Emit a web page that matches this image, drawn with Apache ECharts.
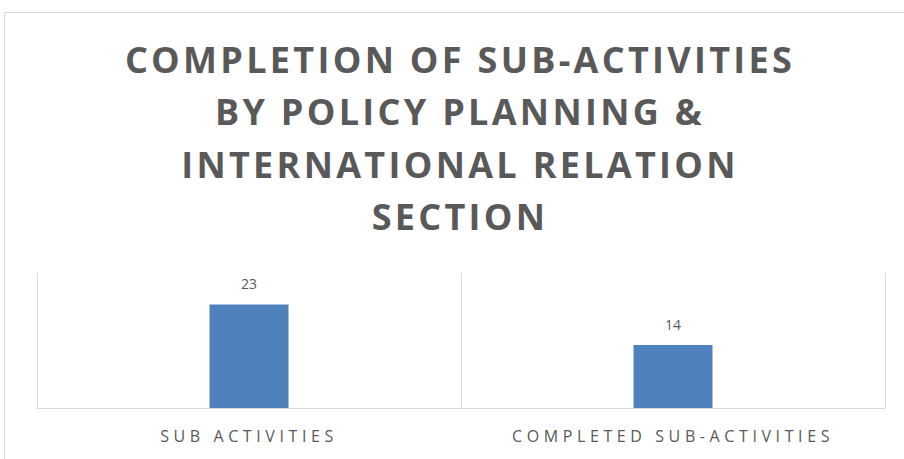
<!DOCTYPE html>
<html><head><meta charset="utf-8">
<script src="https://cdn.jsdelivr.net/npm/echarts@6/dist/echarts.min.js"></script>
<style>
html,body{margin:0;padding:0;background:#fff;}
#c{width:904px;height:459px;}
#c svg text{letter-spacing:0px;}
#c svg text[style*="36px"]{letter-spacing:3.3px;}
#c svg text[style*="16px"]{letter-spacing:4.6px;}
</style></head><body>
<div id="c"></div>
<script>
const titleText = "COMPLETION OF SUB-ACTIVITIES\nBY POLICY PLANNING &\nINTERNATIONAL RELATION\nSECTION";
const categories = ["SUB ACTIVITIES", "COMPLETED SUB-ACTIVITIES"];
const values = [23, 14];

const chart = echarts.init(document.getElementById('c'), null, {renderer: 'svg'});
chart.setOption({
  animation: false,
  backgroundColor: '#fff',
  graphic: [{
    type: 'rect', silent: true, z: -1,
    shape: {x: 4.5, y: 12.5, width: 1200, height: 1000},
    style: {fill: 'none', stroke: '#D9D9D9', lineWidth: 1}
  }],
  title: {
    text: titleText,
    left: 455,
    textAlign: 'center',
    top: 28,
    textStyle: {
      fontFamily: 'Open Sans', fontWeight: 'bold', fontSize: 36,
      color: '#595959', lineHeight: 52.5
    }
  },
  grid: {left: 37, right: 19, top: 273, bottom: 51},
  xAxis: {
    type: 'category', data: categories,
    axisLine: {lineStyle: {color: '#D9D9D9'}},
    axisTick: {show: false},
    splitLine: {show: true, interval: 0, lineStyle: {color: '#D9D9D9'}},
    axisLabel: {color: '#595959', fontFamily: 'Open Sans', fontSize: 16, margin: 20, interval: 0}
  },
  yAxis: {
    type: 'value', min: 0, max: 30, show: false,
    splitLine: {show: false}
  },
  series: [{
    type: 'bar', data: values, barWidth: 79,
    itemStyle: {color: '#4F81BD'},
    label: {show: true, position: 'top', distance: 14, color: '#595959', fontFamily: 'Open Sans', fontSize: 14}
  }]
});
</script></body></html>
